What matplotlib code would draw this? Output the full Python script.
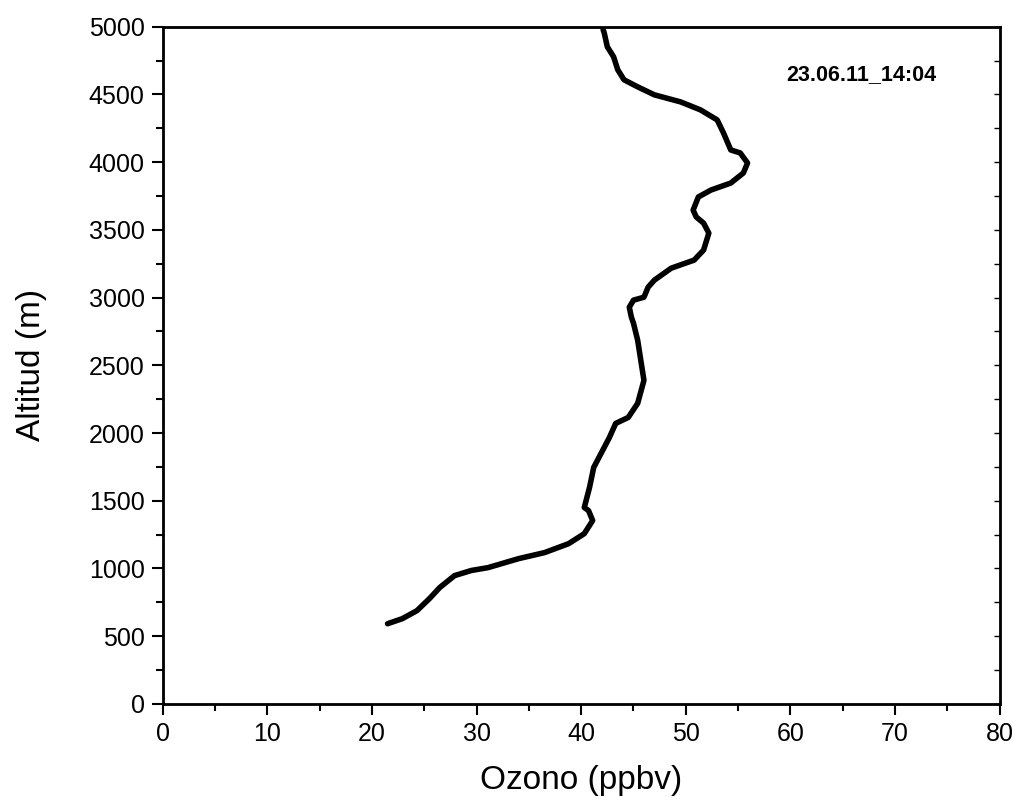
import matplotlib.pyplot as plt
from matplotlib.ticker import MultipleLocator

plt.rcParams['font.family'] = ['Liberation Sans', 'DejaVu Sans']

# perfil de ozono
ozono = [21.5, 22.9, 24.3, 25.5, 26.5, 27.9, 29.5, 31.1, 34.0, 36.5, 38.8, 40.3,
         41.1, 40.7, 40.3, 40.8, 41.2, 41.9, 42.7, 43.3, 44.5, 45.4, 46.0, 45.7,
         45.4, 45.0, 44.8, 44.6, 45.0, 46.0, 46.4, 47.0, 48.6, 50.8, 51.7, 52.2,
         51.7, 51.0, 50.7, 51.2, 52.4, 54.3, 55.5, 55.9, 55.2, 54.3, 53.6, 53.0,
         51.4, 49.5, 47.0, 45.4, 44.1, 43.5, 43.1, 42.5, 42.2, 42.1]
altitud = [592, 629, 688, 777, 860, 947, 985, 1006, 1072, 1117, 1183, 1257,
           1354, 1428, 1450, 1598, 1746, 1849, 1967, 2071, 2115, 2219, 2389, 2537,
           2685, 2811, 2855, 2929, 2981, 3003, 3077, 3129, 3217, 3277, 3351, 3476,
           3550, 3595, 3646, 3743, 3794, 3846, 3920, 3994, 4068, 4090, 4216, 4312,
           4386, 4445, 4497, 4556, 4608, 4682, 4778, 4852, 4956, 4978]

fig = plt.figure(figsize=(10.16, 8.1), dpi=100)
ax = fig.add_axes([0.160, 0.131, 0.824, 0.836])

ax.plot(ozono, altitud, color='black', linewidth=4, solid_capstyle='round', solid_joinstyle='round')

ax.set_xlim(0, 80)
ax.set_ylim(0, 5000)
ax.xaxis.set_major_locator(MultipleLocator(10))
ax.xaxis.set_minor_locator(MultipleLocator(5))
ax.yaxis.set_major_locator(MultipleLocator(500))
ax.yaxis.set_minor_locator(MultipleLocator(250))

ax.tick_params(which='both', direction='out', width=1.5, labelsize=18, pad=5)
ax.tick_params(which='major', length=8)
ax.tick_params(which='minor', length=5)
for s in ax.spines.values():
    s.set_linewidth(2)

# marcas pequeñas hacia dentro en el eje derecho
ax2 = ax.twinx()
ax2.set_ylim(0, 5000)
ax2.yaxis.set_major_locator(MultipleLocator(500))
ax2.yaxis.set_minor_locator(MultipleLocator(250))
ax2.tick_params(which='both', direction='in', width=1, length=4, labelright=False)

ax.set_xlabel("Ozono (ppbv)", fontsize=24, labelpad=14)
ax.set_ylabel("Altitud (m)", fontsize=24, labelpad=30)

ax.text(0.745, 0.93, "23.06.11_14:04", transform=ax.transAxes, fontsize=15.5,
        fontweight='bold', va='center')

fig.savefig("out.png", dpi=100)
